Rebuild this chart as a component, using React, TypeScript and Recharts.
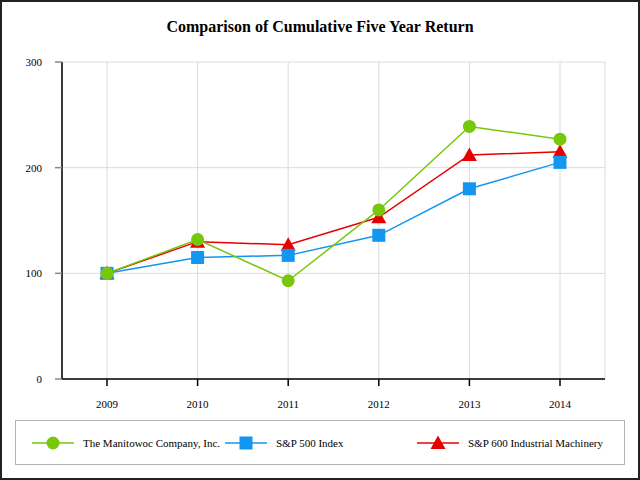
import { LineChart, Line, XAxis, YAxis, CartesianGrid } from "recharts";

const years = ["2009", "2010", "2011", "2012", "2013", "2014"];
const manitowoc = [100, 132, 93, 160, 239, 227];
const sp500 = [100, 115, 117, 136, 180, 205];
const sp600Machinery = [100, 130, 127, 153, 212, 215];
const yTicks = [0, 100, 200, 300];

const seriesInfo = [
  { key: "manitowoc", name: "The Manitowoc Company, Inc.", color: "#77C80A", shape: "circle" },
  { key: "sp500", name: "S&P 500 Index", color: "#1296F0", shape: "square" },
  { key: "sp600", name: "S&P 600 Industrial Machinery", color: "#E80000", shape: "triangle" },
];

// painting order in the reference: red under blue under green
const drawOrder = ["sp600", "sp500", "manitowoc"];

const chartData = years.map((year, i) => ({
  year,
  manitowoc: manitowoc[i],
  sp500: sp500[i],
  sp600: sp600Machinery[i],
}));

const FONT = "'Liberation Serif', 'Times New Roman', serif";

const Circle = (props: any) => {
  const { cx, cy, fill } = props;
  return <circle cx={cx} cy={cy} r={6.5} fill={fill} />;
};

const Square = (props: any) => {
  const { cx, cy, fill } = props;
  return <rect x={cx - 6.5} y={cy - 6.5} width={13} height={13} fill={fill} />;
};

const Triangle = (props: any) => {
  const { cx, cy, fill } = props;
  return <path d={`M${cx},${cy - 7.5} L${cx + 7.5},${cy + 6} L${cx - 7.5},${cy + 6} Z`} fill={fill} />;
};

const markers: Record<string, any> = { circle: Circle, square: Square, triangle: Triangle };

const LegendIcon = ({ shape, color }: { shape: string; color: string }) => {
  const M = markers[shape];
  return (
    <svg width={42} height={16} style={{ display: "block" }}>
      <line x1={0} y1={8} x2={42} y2={8} stroke={color} strokeWidth={1.5} />
      <M cx={21} cy={8} fill={color} />
    </svg>
  );
};

const legendLeft = [16, 209, 401];

export default function App() {
  return (
    <div
      style={{
        position: "absolute",
        left: 0,
        top: 0,
        width: 640,
        height: 480,
        boxSizing: "border-box",
        border: "2px solid #222",
        background: "#fff",
        fontFamily: FONT,
      }}
    >
      <div
        style={{
          position: "absolute",
          top: 16,
          left: 0,
          width: 636,
          textAlign: "center",
          fontWeight: "bold",
          fontSize: 16,
          color: "#000",
        }}
      >
        Comparison of Cumulative Five Year Return
      </div>
      <div style={{ position: "absolute", left: -2, top: -2 }}>
        <LineChart
          width={640}
          height={480}
          data={chartData}
          margin={{ top: 62, right: 35, left: 0, bottom: 71 }}
        >
          <CartesianGrid stroke="#dcdcdc" strokeWidth={1} />
          <XAxis
            dataKey="year"
            padding={{ left: 45, right: 45 }}
            stroke="#000"
            strokeWidth={1.5}
            tickSize={7}
            tickMargin={14}
            height={30}
            tick={{ fill: "#000", fontSize: 11, fontFamily: FONT }}
          />
          <YAxis
            domain={[0, 300]}
            ticks={yTicks}
            width={62}
            stroke="#000"
            strokeWidth={1.5}
            tickSize={7}
            tickMargin={13}
            tickLine={{ stroke: "#888" }}
            tick={{ fill: "#000", fontSize: 11, fontFamily: FONT }}
          />
          {drawOrder.map((k) => {
            const s = seriesInfo.find((x) => x.key === k)!;
            const M = markers[s.shape];
            return (
              <Line
                key={s.key}
                type="linear"
                dataKey={s.key}
                name={s.name}
                stroke={s.color}
                strokeWidth={1.5}
                dot={(p: any) => <M key={`${s.key}-${p.index}`} cx={p.cx} cy={p.cy} fill={s.color} />}
                activeDot={false}
                isAnimationActive={false}
              />
            );
          })}
        </LineChart>
      </div>
      <div
        style={{
          position: "absolute",
          left: 13,
          top: 418,
          width: 610,
          height: 45,
          boxSizing: "border-box",
          border: "1px solid #b4b4b4",
        }}
      >
        {seriesInfo.map((s, i) => (
          <div
            key={s.key}
            style={{
              position: "absolute",
              left: legendLeft[i],
              top: 14,
              display: "flex",
              alignItems: "center",
              fontSize: 11,
              color: "#000",
              whiteSpace: "nowrap",
            }}
          >
            <LegendIcon shape={s.shape} color={s.color} />
            <span style={{ marginLeft: 9 }}>{s.name}</span>
          </div>
        ))}
      </div>
    </div>
  );
}
